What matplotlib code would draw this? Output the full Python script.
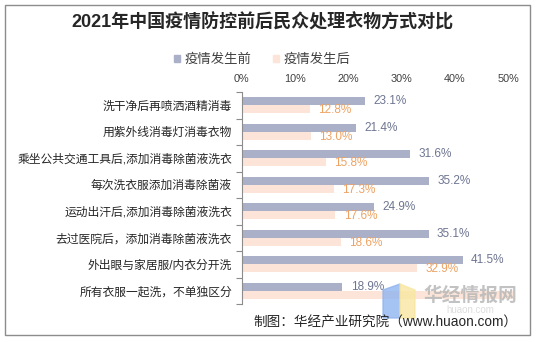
import matplotlib
matplotlib.use("Agg")
import matplotlib.pyplot as plt
from matplotlib.patches import Patch, Rectangle, Polygon
from matplotlib.ticker import FuncFormatter
import numpy as np

plt.rcParams['font.family'] = ['Liberation Sans', 'Noto Sans CJK SC', 'DejaVu Sans']

categories = ["洗干净后再喷洒酒精消毒", "用紫外线消毒灯消毒衣物", "乘坐公共交通工具后,添加消毒除菌液洗衣",
              "每次洗衣服添加消毒除菌液", "运动出汗后,添加消毒除菌液洗衣", "去过医院后，添加消毒除菌液洗衣",
              "外出眼与家居服/内衣分开洗", "所有衣服一起洗，不单独区分"]
before = [23.1, 21.4, 31.6, 35.2, 24.9, 35.1, 41.5, 18.9]
after = [12.8, 13.0, 15.8, 17.3, 17.6, 18.6, 32.9, 51.0]
series_names = ["疫情发生前", "疫情发生后"]

c_before = '#AAB0C8'
c_after = '#FCE5D8'
c_lab_before = '#6E7591'
c_lab_after = '#EDA263'

W, H = 539, 342
fig = plt.figure(figsize=(W / 100, H / 100), dpi=100)

# outer frame
fig.patches.append(Rectangle((5 / W, 1 - 335 / H), 525 / W, 330 / H, transform=fig.transFigure,
                             fill=False, edgecolor='#8C8C8C', lw=1))

ax = fig.add_axes([241.7 / W, 1 - 304 / H, (508 - 241.7) / W, 212 / H])
y = np.arange(len(categories))
h = 0.30
ax.barh(y - h / 2, before, height=h, color=c_before, clip_on=False, zorder=2)
ax.barh(y + h / 2, after, height=h, color=c_after, clip_on=False, zorder=2)

# labels beyond the axis max are hidden in the original
for i in range(len(categories)):
    if before[i] <= 50:
        ax.annotate(f"{before[i]:.1f}%", (before[i], i - h / 2), xytext=(6, 0), textcoords='offset points',
                    va='center', ha='left', fontsize=8.5, color=c_lab_before)
    if after[i] <= 50:
        ax.annotate(f"{after[i]:.1f}%", (after[i], i + h / 2 + 0.04), xytext=(6, 0), textcoords='offset points',
                    va='center', ha='left', fontsize=8.5, color=c_lab_after)

ax.set_xlim(0, 50)
ax.set_ylim(len(categories) - 0.5, -0.5)
ax.set_xticks(np.arange(0, 51, 10))
ax.xaxis.set_major_formatter(FuncFormatter(lambda v, p: f"{v:.0f}%"))
ax.xaxis.tick_top()
ax.tick_params(axis='x', length=0, pad=6, labelsize=7.8, labelcolor='#404040')
ax.set_yticks(y)
ax.set_yticklabels(categories, fontsize=8.5, color='#262626')
ax.set_yticks(np.arange(-0.5, len(categories), 1), minor=True)
ax.tick_params(axis='y', which='major', length=0, pad=7)
ax.tick_params(axis='y', which='minor', length=4, color='#8C8C8C', width=0.8)
for s in ['top', 'right', 'bottom']:
    ax.spines[s].set_visible(False)
ax.spines['left'].set_color('#8C8C8C')
ax.spines['left'].set_linewidth(0.8)

fig.text(262 / W, 1 - 22 / H, "2021年中国疫情防控前后民众处理衣物方式对比", ha='center', va='center',
         fontsize=13, fontweight='bold', color='#262626')

handles = [Patch(color=c_before), Patch(color=c_after)]
fig.legend(handles, series_names, loc='center', bbox_to_anchor=(262 / W, 1 - 60 / H), ncol=2, frameon=False,
           fontsize=9.6, handlelength=0.5, handleheight=0.5, handletextpad=0.3, columnspacing=1.6,
           labelcolor='#404040')

# watermark
fig.patches.append(Polygon([(383 / W, 1 - 290 / H), (400 / W, 1 - 284 / H), (400 / W, 1 - 318 / H),
                            (383 / W, 1 - 318 / H)], closed=True, transform=fig.transFigure,
                           color='#8FB4F0', alpha=0.8, zorder=5))
fig.patches.append(Polygon([(400 / W, 1 - 284 / H), (415 / W, 1 - 290 / H), (415 / W, 1 - 318 / H),
                            (400 / W, 1 - 318 / H)], closed=True, transform=fig.transFigure,
                           color='#F8E7A0', alpha=0.8, zorder=5))
fig.text(470 / W, 1 - 296 / H, "华经情报网", ha='center', va='center', fontsize=13.5, fontweight='bold',
         color='#B8B8B8', alpha=0.85, zorder=6)
fig.text(470 / W, 1 - 310 / H, "huaon.com", ha='center', va='center', fontsize=7,
         color='#DDDDDD', zorder=6)

fig.text(517 / W, 1 - 323 / H, "制图：华经产业研究院（www.huaon.com）", ha='right', va='center',
         fontsize=9.8, color='#262626', zorder=7)

fig.savefig("out.png", dpi=100)
